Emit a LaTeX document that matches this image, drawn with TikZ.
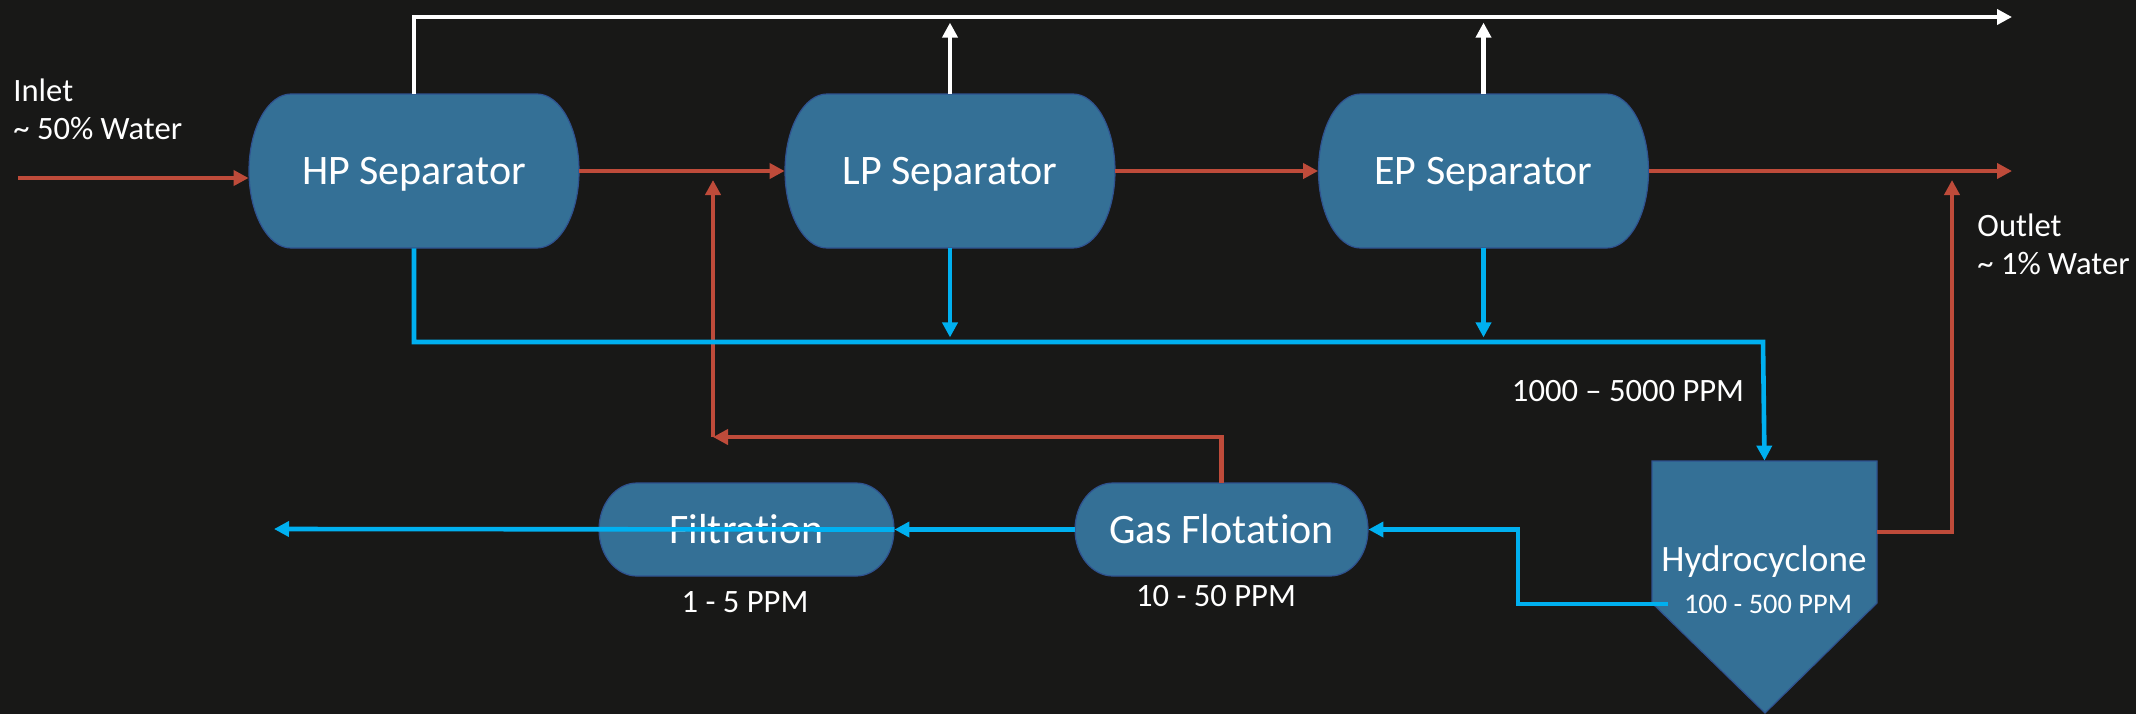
\documentclass[tikz,border=0pt]{standalone}
\usepackage{fontspec}
\setmainfont{Carlito}[Ligatures=NoCommon]
\usetikzlibrary{arrows.meta}

\definecolor{bgdark}{HTML}{181817}
\definecolor{tankblue}{HTML}{347096}
\definecolor{tankedge}{HTML}{2F528F}
\definecolor{oilred}{HTML}{BE4B3A}
\definecolor{waterblue}{HTML}{00B0F0}

% vessel: name, cx, cy, width, height, side bulge, label
\newcommand{\vessel}[7]{%
  \path[tank] (#2-#4/2+#6,#3-#5/2) -- (#2+#4/2-#6,#3-#5/2)
    arc[start angle=-90,end angle=90,x radius=#6,y radius=#5/2]
    -- (#2-#4/2+#6,#3+#5/2)
    arc[start angle=90,end angle=270,x radius=#6,y radius=#5/2] -- cycle;
  \node[vlabel,minimum width=#4*0.5pt,minimum height=#5*0.5pt] (#1) at (#2,#3) {#7};}

\begin{document}
\begin{tikzpicture}[x=0.5pt,y=0.5pt,yscale=-1,xscale=1,
    tank/.style={fill=tankblue,draw=tankedge,line width=0.6pt},
    vlabel/.style={inner sep=0pt,text=white,text height=13.5pt,text depth=0pt,
      font=\fontsize{21}{25}\selectfont},
    note/.style={inner sep=0pt,text=white,font=\fontsize{16.3}{19}\selectfont},
    flow/.style={line width=2.3pt,-{Triangle[length=7.5pt,width=7.5pt]}},
    oil/.style={flow,draw=oilred},
    water/.style={flow,draw=waterblue},
    gas/.style={flow,draw=white}]
  \fill[bgdark] (0,0) rectangle (2136,714);
  \useasboundingbox (0,0) rectangle (2136,714);

  % vessels
  \vessel{hp}{414}{171}{330}{154}{42}{HP Separator}
  \vessel{lp}{950}{171}{330}{154}{42}{LP Separator}
  \vessel{ep}{1483.5}{171}{330}{154}{42}{EP Separator}
  \vessel{filt}{746.5}{529.5}{295}{93}{38}{Filtration}
  \vessel{gf}{1221.5}{529.5}{293}{93}{38}{Gas Flotation}

  \path[tank] (1652,461) -- (1877,461) -- (1877,603) -- (1765,713) -- (1652,603) -- cycle;
  \node[inner sep=0pt,minimum width=225*0.5pt,minimum height=142*0.5pt] (hc) at (1764.5,532) {};
  \node[note,font=\fontsize{18.6}{22}\selectfont] (hcname) at (1764,562) {Hydrocyclone};
  \node[note,font=\fontsize{14.2}{17}\selectfont] (hcppm) at (1768,604) {100 - 500 PPM};

  % labels
  \node[note,anchor=north west,align=left] (inlet) at (13,78) {Inlet\\\textasciitilde{} 50\% Water};
  \node[note,anchor=north west,align=left] (outlet) at (1977,213) {Outlet\\\textasciitilde{} 1\% Water};
  \node[note] (ppmA) at (1628,391) {1000 -- 5000 PPM};
  \node[note] (ppmB) at (1216,596) {10 - 50 PPM};
  \node[note] (ppmC) at (745,602) {1 - 5 PPM};

  % end points
  \coordinate (in) at (18,178);
  \coordinate (oilout) at (2012,171);
  \coordinate (gasout) at (2012,17);
  \coordinate (wjoin) at (1763,342);
  \coordinate (oilup) at (1952,180);
  \coordinate (hcw) at (1668,604);
  \coordinate (wout) at (274,529);
  \coordinate (recycle) at (713,437);
  \coordinate (recycleup) at (713,180);

  % oil line
  \draw[oil] (in) -- (in -| hp.west);
  \draw[oil] (hp.east) -- (lp.west);
  \draw[oil] (lp.east) -- (ep.west);
  \draw[oil] (ep.east) -- (oilout);
  \draw[oil] (hc.east) -| (oilup);
  \draw[oil] (gf.north) |- (recycle);
  \draw[oil] (recycle) -- (recycleup);

  % gas line
  \draw[gas] (hp.north) |- (gasout);
  \draw[gas] (lp.north) -- ++(0,-71);
  \draw[gas] (ep.north) -- ++(0,-71);

  % water line
  \draw[water] (hp.south) |- (wjoin) -- (hc.north);
  \draw[water] (lp.south) -- ++(0,89);
  \draw[water] (ep.south) -- ++(0,89);
  \draw[water] (hcw) -- ++(-150,0) |- (gf.east);
  \draw[water] (gf.west) -- (filt.east);
  \draw[water] (filt.east) -- (wout);
\end{tikzpicture}
\end{document}
